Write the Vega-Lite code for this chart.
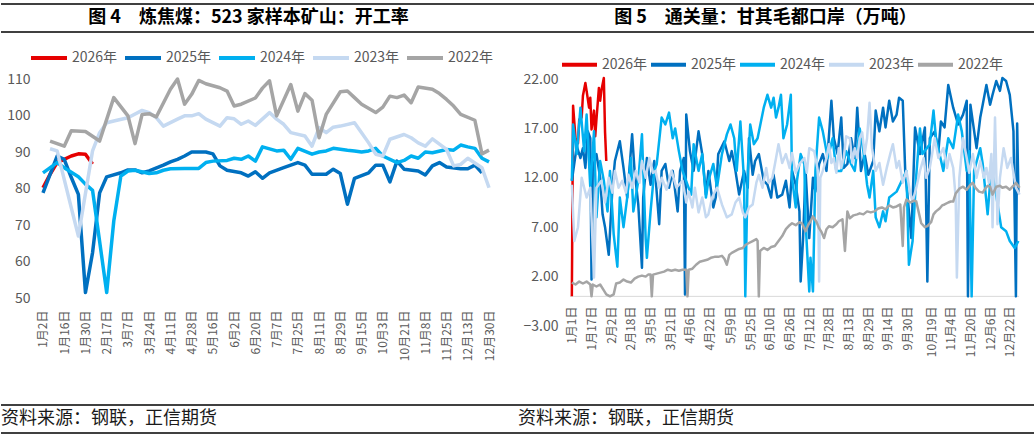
{
  "$schema": "https://vega.github.io/schema/vega-lite/v6.json",
  "background": "white",
  "padding": {"left": 0, "top": 3, "right": 0, "bottom": 0},
  "config": {
    "view": {"stroke": null},
    "font": "Noto Sans CJK SC",
    "axis": {"grid": false, "ticks": false, "domain": false, "labelColor": "#595959"}
  },
  "datasets": {
    "L26": [{"i":0,"v":80.2},{"i":1,"v":83.9},{"i":2,"v":87.1},{"i":4,"v":88.9},{"i":5,"v":89.5},{"i":6,"v":89.4},{"i":7,"v":86.7}],
    "L25": [{"i":0,"v":78.8},{"i":2,"v":88.9},{"i":3,"v":88.0},{"i":4,"v":83.0},{"i":5,"v":78.4},{"i":6,"v":51.5},{"i":7,"v":62.4},{"i":8,"v":78.8},{"i":9,"v":83.2},{"i":11,"v":84.3},{"i":12,"v":85.1},{"i":13,"v":85.1},{"i":14,"v":84.3},{"i":15,"v":84.8},{"i":17,"v":86.4},{"i":18,"v":87.3},{"i":19,"v":88.0},{"i":20,"v":88.9},{"i":21,"v":90.0},{"i":23,"v":90.0},{"i":24,"v":89.5},{"i":25,"v":86.2},{"i":26,"v":85.0},{"i":28,"v":84.3},{"i":29,"v":83.4},{"i":30,"v":84.6},{"i":31,"v":82.8},{"i":32,"v":84.3},{"i":34,"v":85.7},{"i":35,"v":86.4},{"i":36,"v":87.1},{"i":37,"v":86.4},{"i":38,"v":83.9},{"i":40,"v":83.9},{"i":41,"v":85.3},{"i":42,"v":84.1},{"i":43,"v":75.7},{"i":44,"v":82.8},{"i":46,"v":84.3},{"i":47,"v":86.4},{"i":48,"v":86.4},{"i":49,"v":81.8},{"i":50,"v":87.5},{"i":51,"v":85.3},{"i":53,"v":84.8},{"i":54,"v":83.7},{"i":55,"v":86.2},{"i":56,"v":87.1},{"i":57,"v":85.9},{"i":59,"v":85.4},{"i":60,"v":85.4},{"i":61,"v":86.4},{"i":62,"v":84.3}],
    "L24": [{"i":0,"v":84.3},{"i":2,"v":87.1},{"i":3,"v":85.7},{"i":5,"v":83.2},{"i":6,"v":81.2},{"i":7,"v":79.5},{"i":9,"v":51.5},{"i":10,"v":71.1},{"i":11,"v":83.4},{"i":12,"v":84.8},{"i":13,"v":85.0},{"i":15,"v":84.1},{"i":16,"v":84.3},{"i":17,"v":85.0},{"i":18,"v":85.4},{"i":20,"v":85.5},{"i":22,"v":85.5},{"i":23,"v":87.1},{"i":24,"v":87.5},{"i":26,"v":87.7},{"i":27,"v":88.3},{"i":28,"v":88.0},{"i":29,"v":88.9},{"i":30,"v":87.5},{"i":31,"v":91.4},{"i":33,"v":90.3},{"i":34,"v":90.5},{"i":35,"v":88.0},{"i":36,"v":91.0},{"i":38,"v":89.4},{"i":39,"v":90.0},{"i":40,"v":90.3},{"i":41,"v":91.0},{"i":43,"v":90.5},{"i":44,"v":90.3},{"i":45,"v":90.0},{"i":46,"v":90.3},{"i":47,"v":91.0},{"i":48,"v":88.9},{"i":50,"v":87.1},{"i":51,"v":87.7},{"i":52,"v":88.9},{"i":53,"v":88.3},{"i":54,"v":90.0},{"i":55,"v":89.8},{"i":57,"v":90.7},{"i":58,"v":90.5},{"i":59,"v":91.9},{"i":60,"v":91.4},{"i":61,"v":91.0},{"i":62,"v":88.3},{"i":63,"v":87.3}],
    "L23": [{"i":1,"v":90.9},{"i":2,"v":90.3},{"i":4,"v":74.7},{"i":5,"v":67.0},{"i":7,"v":90.3},{"i":8,"v":95.3},{"i":9,"v":98.0},{"i":10,"v":98.5},{"i":12,"v":99.4},{"i":14,"v":101.4},{"i":15,"v":100.8},{"i":16,"v":99.4},{"i":17,"v":97.1},{"i":19,"v":99.0},{"i":20,"v":99.9},{"i":21,"v":99.9},{"i":22,"v":100.5},{"i":23,"v":99.0},{"i":25,"v":97.1},{"i":26,"v":99.4},{"i":27,"v":99.1},{"i":28,"v":97.6},{"i":29,"v":98.5},{"i":30,"v":97.3},{"i":32,"v":100.8},{"i":33,"v":99.0},{"i":34,"v":97.6},{"i":35,"v":95.3},{"i":37,"v":94.4},{"i":38,"v":91.6},{"i":39,"v":96.7},{"i":40,"v":95.3},{"i":41,"v":96.8},{"i":42,"v":97.1},{"i":44,"v":98.0},{"i":45,"v":95.3},{"i":46,"v":92.5},{"i":47,"v":89.4},{"i":48,"v":88.9},{"i":49,"v":93.5},{"i":51,"v":94.8},{"i":52,"v":93.9},{"i":53,"v":92.5},{"i":54,"v":91.6},{"i":55,"v":93.6},{"i":57,"v":90.7},{"i":58,"v":86.2},{"i":59,"v":86.6},{"i":60,"v":88.3},{"i":62,"v":85.7},{"i":63,"v":80.2}],
    "L22": [{"i":1,"v":93.0},{"i":3,"v":91.6},{"i":4,"v":95.8},{"i":6,"v":95.6},{"i":8,"v":93.0},{"i":10,"v":104.9},{"i":12,"v":99.9},{"i":13,"v":92.3},{"i":14,"v":100.3},{"i":15,"v":100.5},{"i":16,"v":99.6},{"i":18,"v":107.2},{"i":19,"v":110},{"i":20,"v":103.1},{"i":21,"v":105.8},{"i":22,"v":109.6},{"i":23,"v":108.7},{"i":25,"v":107.6},{"i":26,"v":106.7},{"i":27,"v":102.6},{"i":28,"v":103.1},{"i":30,"v":104.8},{"i":31,"v":107.5},{"i":32,"v":109.5},{"i":33,"v":99.9},{"i":35,"v":108.5},{"i":36,"v":101.2},{"i":37,"v":106.0},{"i":38,"v":104.2},{"i":39,"v":93.9},{"i":40,"v":100.3},{"i":42,"v":106.5},{"i":43,"v":106.7},{"i":44,"v":104.9},{"i":45,"v":103.1},{"i":47,"v":100.8},{"i":48,"v":102.3},{"i":49,"v":105.3},{"i":50,"v":104.9},{"i":51,"v":105.6},{"i":52,"v":103.5},{"i":53,"v":107.8},{"i":55,"v":107.2},{"i":56,"v":106.0},{"i":57,"v":104.4},{"i":58,"v":102.6},{"i":59,"v":100.3},{"i":61,"v":98.7},{"i":62,"v":89.5},{"i":63,"v":90.5}],
    "R26": [{"n":0,"v":0},{"n":1,"v":19.3},{"n":3,"v":16.0},{"n":5,"v":15.5},{"n":6,"v":17.9},{"n":8,"v":18.1},{"n":9,"v":20.3},{"n":11,"v":21.6},{"n":12,"v":20.8},{"n":14,"v":19.1},{"n":15,"v":20.1},{"n":16,"v":16.9},{"n":18,"v":18.8},{"n":19,"v":16.2},{"n":20,"v":17.9},{"n":22,"v":21.1},{"n":23,"v":19.8},{"n":24,"v":20.8},{"n":26,"v":22.1},{"n":27,"v":16.6},{"n":28,"v":13.7}],
    "R25": [{"n":0,"v":11.7},{"n":4,"v":15.2},{"n":7,"v":14.0},{"n":9,"v":15.0},{"n":11,"v":13.0},{"n":13,"v":16.7},{"n":15,"v":16.0},{"n":16,"v":1.7},{"n":17,"v":13.0},{"n":20,"v":14.4},{"n":23,"v":12.0},{"n":25,"v":8.3},{"n":27,"v":7.0},{"n":30,"v":4.2},{"n":33,"v":11.0},{"n":35,"v":13.7},{"n":39,"v":15.7},{"n":42,"v":13.0},{"n":45,"v":10.0},{"n":49,"v":16.4},{"n":51,"v":12.7},{"n":54,"v":9.3},{"n":57,"v":2.9},{"n":58,"v":10.0},{"n":61,"v":14.0},{"n":64,"v":11.3},{"n":67,"v":13.7},{"n":71,"v":7.3},{"n":73,"v":12.7},{"n":76,"v":13.4},{"n":79,"v":11.0},{"n":82,"v":12.7},{"n":86,"v":8.6},{"n":88,"v":12.7},{"n":91,"v":14.0},{"n":92,"v":0.2},{"n":93,"v":18.4},{"n":96,"v":14.7},{"n":99,"v":12.7},{"n":103,"v":16.7},{"n":106,"v":14.4},{"n":109,"v":10.3},{"n":111,"v":12.7},{"n":115,"v":9.0},{"n":117,"v":10.0},{"n":119,"v":14.4},{"n":124,"v":15.7},{"n":128,"v":13.7},{"n":130,"v":14.7},{"n":133,"v":12.7},{"n":136,"v":10.3},{"n":140,"v":12.7},{"n":143,"v":11.0},{"n":144,"v":16.0},{"n":147,"v":12.3},{"n":149,"v":13.7},{"n":152,"v":14.4},{"n":156,"v":11.7},{"n":159,"v":11.3},{"n":162,"v":10.0},{"n":164,"v":12.3},{"n":167,"v":10.0},{"n":171,"v":10.3},{"n":174,"v":11.7},{"n":177,"v":9.0},{"n":179,"v":12.7},{"n":182,"v":11.3},{"n":185,"v":8.6},{"n":186,"v":1.5},{"n":188,"v":5.9},{"n":190,"v":12.7},{"n":193,"v":5.9},{"n":196,"v":12.0},{"n":198,"v":10.6},{"n":201,"v":13.4},{"n":204,"v":14.4},{"n":207,"v":12.7},{"n":211,"v":19.8},{"n":213,"v":16.0},{"n":216,"v":14.4},{"n":219,"v":18.1},{"n":221,"v":13.0},{"n":224,"v":13.4},{"n":227,"v":16.0},{"n":230,"v":14.0},{"n":232,"v":19.1},{"n":235,"v":12.7},{"n":238,"v":14.4},{"n":241,"v":12.3},{"n":245,"v":13.7},{"n":247,"v":18.8},{"n":250,"v":16.7},{"n":253,"v":19.1},{"n":255,"v":17.1},{"n":258,"v":19.8},{"n":261,"v":17.7},{"n":264,"v":18.4},{"n":266,"v":20.1},{"n":269,"v":19.8},{"n":271,"v":12.7},{"n":273,"v":10.0},{"n":276,"v":5.9},{"n":279,"v":17.1},{"n":283,"v":14.4},{"n":287,"v":17.1},{"n":289,"v":1.5},{"n":291,"v":16.0},{"n":295,"v":16.7},{"n":298,"v":14.7},{"n":300,"v":17.7},{"n":303,"v":17.1},{"n":306,"v":21.4},{"n":310,"v":19.1},{"n":314,"v":17.4},{"n":318,"v":18.4},{"n":321,"v":19.8},{"n":322,"v":0},{"n":324,"v":19.4},{"n":329,"v":15.0},{"n":332,"v":18.1},{"n":334,"v":19.4},{"n":337,"v":21.4},{"n":340,"v":19.4},{"n":342,"v":20.4},{"n":345,"v":21.8},{"n":348,"v":20.8},{"n":350,"v":22.1},{"n":353,"v":21.8},{"n":356,"v":20.4},{"n":359,"v":16.7},{"n":361,"v":0},{"n":362,"v":17.5},{"n":363,"v":10.5}],
    "R24": [{"n":0,"v":11.7},{"n":1,"v":17.4},{"n":4,"v":14.4},{"n":7,"v":19.1},{"n":10,"v":14.7},{"n":12,"v":18.4},{"n":15,"v":11.0},{"n":18,"v":16.7},{"n":20,"v":8.0},{"n":23,"v":13.7},{"n":26,"v":11.7},{"n":29,"v":8.6},{"n":31,"v":12.7},{"n":34,"v":6.3},{"n":37,"v":3.0},{"n":39,"v":10.0},{"n":42,"v":7.0},{"n":45,"v":10.0},{"n":48,"v":14.0},{"n":50,"v":8.6},{"n":54,"v":11.7},{"n":57,"v":16.4},{"n":60,"v":5.9},{"n":61,"v":3.9},{"n":64,"v":8.6},{"n":67,"v":12.7},{"n":69,"v":13.4},{"n":73,"v":18.1},{"n":76,"v":17.4},{"n":79,"v":18.6},{"n":82,"v":16.0},{"n":84,"v":17.0},{"n":87,"v":14.7},{"n":90,"v":12.7},{"n":94,"v":11.3},{"n":97,"v":10.3},{"n":99,"v":15.4},{"n":103,"v":12.7},{"n":106,"v":14.4},{"n":109,"v":10.0},{"n":111,"v":11.7},{"n":115,"v":13.4},{"n":118,"v":11.0},{"n":122,"v":14.4},{"n":126,"v":16.4},{"n":129,"v":17.4},{"n":132,"v":16.0},{"n":134,"v":12.7},{"n":137,"v":17.7},{"n":140,"v":11.7},{"n":141,"v":0},{"n":143,"v":12.7},{"n":145,"v":17.4},{"n":148,"v":15.4},{"n":151,"v":16.0},{"n":156,"v":19.1},{"n":159,"v":20.4},{"n":162,"v":19.1},{"n":164,"v":20.1},{"n":166,"v":18.1},{"n":168,"v":19.1},{"n":170,"v":20.4},{"n":172,"v":16.0},{"n":175,"v":17.4},{"n":178,"v":20.4},{"n":179,"v":12.0},{"n":182,"v":9.0},{"n":183,"v":11.7},{"n":186,"v":14.4},{"n":189,"v":13.4},{"n":190,"v":7.6},{"n":193,"v":0.5},{"n":194,"v":3.9},{"n":196,"v":0.5},{"n":198,"v":12.7},{"n":201,"v":18.1},{"n":204,"v":16.7},{"n":208,"v":14.0},{"n":212,"v":16.0},{"n":215,"v":12.7},{"n":219,"v":12.7},{"n":223,"v":14.7},{"n":227,"v":13.4},{"n":230,"v":12.7},{"n":234,"v":17.0},{"n":237,"v":14.7},{"n":240,"v":11.3},{"n":242,"v":10.0},{"n":245,"v":12.7},{"n":247,"v":8.0},{"n":250,"v":7.0},{"n":253,"v":8.6},{"n":255,"v":7.6},{"n":258,"v":10.0},{"n":264,"v":10.6},{"n":272,"v":12.7},{"n":274,"v":3.2},{"n":277,"v":5.6},{"n":280,"v":12.3},{"n":283,"v":17.0},{"n":285,"v":14.4},{"n":291,"v":15.4},{"n":294,"v":18.8},{"n":296,"v":16.0},{"n":302,"v":12.7},{"n":306,"v":16.0},{"n":310,"v":15.0},{"n":314,"v":18.4},{"n":317,"v":16.7},{"n":321,"v":12.7},{"n":323,"v":14.7},{"n":325,"v":0},{"n":327,"v":12.7},{"n":332,"v":15.0},{"n":334,"v":13.4},{"n":338,"v":8.3},{"n":341,"v":13.0},{"n":344,"v":11.0},{"n":347,"v":8.6},{"n":349,"v":7.0},{"n":353,"v":6.6},{"n":356,"v":5.6},{"n":360,"v":4.9},{"n":363,"v":5.6}],
    "R23": [{"n":0,"v":11.3},{"n":2,"v":5.6},{"n":5,"v":7.0},{"n":8,"v":12.0},{"n":12,"v":10.0},{"n":15,"v":11.0},{"n":18,"v":1.9},{"n":20,"v":11.0},{"n":24,"v":11.7},{"n":27,"v":9.5},{"n":30,"v":12.0},{"n":33,"v":10.5},{"n":35,"v":12.7},{"n":38,"v":11.0},{"n":41,"v":11.7},{"n":44,"v":10.5},{"n":46,"v":12.3},{"n":49,"v":11.0},{"n":52,"v":12.7},{"n":55,"v":11.5},{"n":57,"v":13.7},{"n":60,"v":12.0},{"n":63,"v":14.0},{"n":66,"v":12.5},{"n":68,"v":12.7},{"n":71,"v":11.0},{"n":73,"v":12.0},{"n":77,"v":10.8},{"n":81,"v":12.7},{"n":85,"v":11.0},{"n":90,"v":11.7},{"n":93,"v":9.5},{"n":95,"v":10.6},{"n":98,"v":9.0},{"n":100,"v":11.0},{"n":103,"v":8.5},{"n":106,"v":10.0},{"n":109,"v":8.0},{"n":111,"v":8.3},{"n":114,"v":10.0},{"n":118,"v":11.0},{"n":122,"v":9.3},{"n":126,"v":8.0},{"n":130,"v":8.3},{"n":133,"v":9.5},{"n":136,"v":10.0},{"n":139,"v":8.5},{"n":141,"v":8.0},{"n":144,"v":9.0},{"n":147,"v":9.3},{"n":150,"v":11.5},{"n":152,"v":12.3},{"n":155,"v":11.0},{"n":158,"v":13.0},{"n":160,"v":11.5},{"n":163,"v":12.0},{"n":166,"v":14.0},{"n":168,"v":15.4},{"n":171,"v":13.5},{"n":174,"v":14.4},{"n":177,"v":13.0},{"n":179,"v":14.5},{"n":182,"v":12.5},{"n":185,"v":13.4},{"n":189,"v":14.0},{"n":191,"v":12.5},{"n":193,"v":15.0},{"n":197,"v":14.7},{"n":200,"v":12.7},{"n":201,"v":1.5},{"n":202,"v":12.0},{"n":204,"v":12.7},{"n":207,"v":14.0},{"n":209,"v":15.4},{"n":211,"v":13.5},{"n":213,"v":14.0},{"n":215,"v":12.5},{"n":217,"v":15.0},{"n":219,"v":13.0},{"n":221,"v":14.0},{"n":223,"v":16.2},{"n":226,"v":16.0},{"n":228,"v":13.5},{"n":230,"v":15.0},{"n":232,"v":14.0},{"n":234,"v":16.0},{"n":236,"v":16.6},{"n":238,"v":14.4},{"n":240,"v":16.0},{"n":242,"v":19.6},{"n":244,"v":15.0},{"n":247,"v":12.7},{"n":250,"v":13.5},{"n":253,"v":11.3},{"n":256,"v":13.0},{"n":259,"v":14.5},{"n":261,"v":15.4},{"n":264,"v":13.0},{"n":266,"v":13.7},{"n":269,"v":11.5},{"n":272,"v":12.7},{"n":275,"v":10.5},{"n":277,"v":9.6},{"n":280,"v":11.0},{"n":283,"v":12.7},{"n":286,"v":14.0},{"n":288,"v":12.0},{"n":291,"v":13.0},{"n":293,"v":14.5},{"n":295,"v":16.0},{"n":298,"v":14.0},{"n":302,"v":15.0},{"n":305,"v":13.0},{"n":307,"v":14.4},{"n":310,"v":13.0},{"n":312,"v":10.0},{"n":313,"v":1.9},{"n":315,"v":12.0},{"n":318,"v":16.0},{"n":321,"v":14.0},{"n":323,"v":12.5},{"n":326,"v":14.4},{"n":329,"v":12.0},{"n":332,"v":13.7},{"n":335,"v":12.0},{"n":337,"v":13.0},{"n":339,"v":11.5},{"n":341,"v":14.4},{"n":342,"v":7.0},{"n":344,"v":18.1},{"n":346,"v":7.3},{"n":348,"v":12.0},{"n":351,"v":15.0},{"n":354,"v":13.0},{"n":357,"v":14.0},{"n":359,"v":12.5},{"n":361,"v":11.0},{"n":364,"v":10.3}],
    "R22": [{"n":0,"v":1.4},{"n":3,"v":1.2},{"n":6,"v":1.5},{"n":9,"v":1.3},{"n":12,"v":1.5},{"n":15,"v":1.2},{"n":16,"v":0},{"n":17,"v":1.2},{"n":20,"v":1.0},{"n":23,"v":1.2},{"n":26,"v":0.6},{"n":28,"v":0.2},{"n":31,"v":0},{"n":34,"v":0.2},{"n":36,"v":1.3},{"n":39,"v":1.4},{"n":42,"v":1.7},{"n":45,"v":1.5},{"n":48,"v":1.4},{"n":51,"v":1.8},{"n":54,"v":2.0},{"n":57,"v":2.1},{"n":60,"v":2.0},{"n":62,"v":2.2},{"n":64,"v":2.2},{"n":65,"v":0},{"n":66,"v":2.2},{"n":69,"v":2.3},{"n":72,"v":2.4},{"n":75,"v":2.5},{"n":78,"v":2.7},{"n":81,"v":2.6},{"n":84,"v":2.7},{"n":87,"v":2.6},{"n":90,"v":2.7},{"n":93,"v":2.7},{"n":94,"v":0},{"n":95,"v":2.7},{"n":98,"v":2.8},{"n":101,"v":3.2},{"n":104,"v":3.5},{"n":107,"v":3.6},{"n":110,"v":3.7},{"n":113,"v":3.9},{"n":116,"v":4.0},{"n":119,"v":4.0},{"n":122,"v":4.1},{"n":124,"v":3.8},{"n":126,"v":3.2},{"n":128,"v":4.2},{"n":130,"v":4.4},{"n":133,"v":4.6},{"n":136,"v":4.8},{"n":139,"v":4.9},{"n":141,"v":5.2},{"n":144,"v":5.4},{"n":147,"v":5.6},{"n":150,"v":5.8},{"n":151,"v":5.6},{"n":152,"v":0},{"n":153,"v":4.6},{"n":156,"v":4.9},{"n":159,"v":4.7},{"n":162,"v":5.0},{"n":165,"v":5.1},{"n":168,"v":5.6},{"n":171,"v":6.1},{"n":174,"v":6.8},{"n":177,"v":7.2},{"n":179,"v":7.4},{"n":182,"v":7.2},{"n":185,"v":7.5},{"n":187,"v":7.4},{"n":190,"v":6.6},{"n":192,"v":7.2},{"n":194,"v":7.6},{"n":196,"v":8.1},{"n":199,"v":7.5},{"n":201,"v":6.9},{"n":203,"v":6.5},{"n":205,"v":5.9},{"n":207,"v":6.8},{"n":209,"v":7.1},{"n":212,"v":7.0},{"n":215,"v":7.3},{"n":217,"v":7.6},{"n":220,"v":7.8},{"n":222,"v":4.6},{"n":224,"v":8.6},{"n":226,"v":7.9},{"n":229,"v":8.2},{"n":232,"v":8.3},{"n":234,"v":8.4},{"n":237,"v":8.3},{"n":240,"v":8.6},{"n":243,"v":8.5},{"n":246,"v":8.6},{"n":249,"v":8.9},{"n":252,"v":9.0},{"n":255,"v":8.8},{"n":258,"v":9.2},{"n":261,"v":9.0},{"n":264,"v":9.1},{"n":267,"v":9.3},{"n":269,"v":5.1},{"n":270,"v":9.0},{"n":272,"v":9.8},{"n":275,"v":9.5},{"n":278,"v":9.7},{"n":280,"v":9.6},{"n":282,"v":8.5},{"n":284,"v":7.4},{"n":287,"v":7.0},{"n":289,"v":7.1},{"n":292,"v":7.5},{"n":294,"v":8.3},{"n":296,"v":8.6},{"n":299,"v":8.9},{"n":301,"v":9.2},{"n":303,"v":9.3},{"n":306,"v":9.5},{"n":308,"v":9.6},{"n":310,"v":9.6},{"n":312,"v":10.4},{"n":315,"v":10.9},{"n":318,"v":11.1},{"n":321,"v":10.8},{"n":324,"v":11.3},{"n":326,"v":11.5},{"n":328,"v":11.0},{"n":331,"v":10.6},{"n":334,"v":10.5},{"n":336,"v":10.9},{"n":338,"v":11.2},{"n":340,"v":11.1},{"n":342,"v":10.3},{"n":345,"v":11.1},{"n":348,"v":11.2},{"n":350,"v":11.0},{"n":353,"v":11.1},{"n":356,"v":10.8},{"n":359,"v":11.2},{"n":361,"v":11.5},{"n":364,"v":11.0}]
  },
  "spacing": 43,
  "vconcat": [
    {
      "spacing": 5,
      "vconcat": [
        {
          "width": 1034,
          "height": 28,
          "layer": [
            {
              "data": {"values": [{"edge": 0}, {"edge": 1}]},
              "mark": {"type": "rule", "color": "#000000", "strokeWidth": 1.6},
              "encoding": {"y": {"field": "edge", "type": "quantitative", "scale": {"domain": [0, 1]}, "axis": null}}
            },
            {
              "data": {"values": [{"p": "L", "t": "图 4　炼焦煤：523 家样本矿山：开工率"}, {"p": "R", "t": "图 5　通关量：甘其毛都口岸（万吨）"}]},
              "mark": {"type": "text", "fontSize": 18, "fontWeight": "bold", "color": "#000000", "dx": -11},
              "encoding": {
                "x": {"field": "p", "type": "nominal", "axis": null},
                "text": {"field": "t"}
              }
            }
          ]
        },
        {
          "hconcat": [
            {
              "width": 490,
              "height": 219,
              "encoding": {
                "x": {"field": "i", "type": "quantitative", "scale": {"domain": [-5.93, 63.28], "nice": false, "zero": false},
                  "axis": {"title": null, "values": [0,3,6,9,12,15,18,21,24,27,30,33,36,39,42,45,48,51,54,57,60,63],
                    "labelExpr": "['1月2日','1月16日','1月30日','2月17日','3月7日','3月24日','4月11日','4月28日','5月16日','6月2日','6月20日','7月7日','7月25日','8月11日','8月29日','9月15日','10月3日','10月21日','11月8日','11月25日','12月13日','12月30日'][round(datum.value/3)]",
                    "labelAngle": 270, "labelFontSize": 12, "labelPadding": 12, "labelFlush": false, "labelOverlap": false}},
                "y": {"field": "v", "type": "quantitative", "scale": {"domain": [50, 110], "nice": false, "zero": false},
                  "axis": {"title": null, "values": [50,60,70,80,90,100,110], "labelFontSize": 14, "labelPadding": 11, "offset": -40}}
              },
              "layer": [
                {"data": {"values": [{}]}, "mark": {"type": "rule", "color": "#D9D9D9", "strokeWidth": 1},
                  "encoding": {"y": {"datum": 50, "type": "quantitative"}, "x": {"datum": -0.3, "type": "quantitative"}, "x2": {"datum": 63.28}}},
                {"data": {"name": "L26"}, "mark": {"type": "line", "strokeWidth": 3.5, "strokeJoin": "round"},
                  "encoding": {"color": {"datum": "2026年", "type": "nominal",
                    "scale": {"domain": ["2026年","2025年","2024年","2023年","2022年"], "range": ["#E60000","#0070C0","#00B0F0","#C5D9F1","#A5A5A5"]},
                    "legend": {"orient": "none", "legendX": 28, "legendY": -41, "direction": "horizontal", "title": null,
                      "symbolType": "stroke", "symbolStrokeWidth": 4, "symbolSize": 1296, "labelFontSize": 14, "labelColor": "#595959",
                      "columnPadding": -1, "labelOffset": 3, "padding": 0, "fillColor": "rgba(255,255,255,0)"}}}},
                {"data": {"name": "L25"}, "mark": {"type": "line", "strokeWidth": 3.5, "strokeJoin": "round"}, "encoding": {"color": {"datum": "2025年", "type": "nominal"}}},
                {"data": {"name": "L24"}, "mark": {"type": "line", "strokeWidth": 3.5, "strokeJoin": "round"}, "encoding": {"color": {"datum": "2024年", "type": "nominal"}}},
                {"data": {"name": "L23"}, "mark": {"type": "line", "strokeWidth": 3.5, "strokeJoin": "round"}, "encoding": {"color": {"datum": "2023年", "type": "nominal"}}},
                {"data": {"name": "L22"}, "mark": {"type": "line", "strokeWidth": 3.5, "strokeJoin": "round"}, "encoding": {"color": {"datum": "2022年", "type": "nominal"}}}
              ]
            },
            {
              "width": 449,
              "height": 247,
              "layer": [
                {
                  "data": {"values": [{}]},
                  "mark": {"type": "rule", "color": "#D9D9D9", "strokeWidth": 1},
                  "encoding": {"y": {"datum": 0, "type": "quantitative"}}
                },
                {
                  "encoding": {
                    "x": {"field": "n", "type": "quantitative", "scale": {"domain": [-1.5, 363.5], "nice": false, "zero": false},
                      "axis": {"title": null, "values": [0,16,32,48,64,80,96,112,129,145,161,177,193,209,225,241,257,273,292,308,324,340,356],
                        "labelExpr": "timeFormat(datetime(2024,0,1+datum.value),'%-m月%-d日')",
                        "labelAngle": 270, "labelFontSize": 12, "labelPadding": 10, "offset": -30, "labelFlush": false, "labelOverlap": false}},
                    "y": {"field": "v", "type": "quantitative", "scale": {"domain": [-3, 22], "nice": false, "zero": false},
                      "axis": {"title": null, "values": [-3,2,7,12,17,22], "format": ".2f", "labelFontSize": 14, "labelPadding": 12}}
                  },
                  "layer": [
                    {"data": {"name": "R26"}, "mark": {"type": "line", "strokeWidth": 2.5, "strokeJoin": "round"},
                      "encoding": {"color": {"datum": "2026年", "type": "nominal",
                        "scale": {"domain": ["2026年","2025年","2024年","2023年","2022年"], "range": ["#E60000","#0070C0","#00B0F0","#C5D9F1","#A5A5A5"]},
                        "legend": {"orient": "none", "legendX": -17, "legendY": -41, "direction": "horizontal", "title": null,
                          "symbolType": "stroke", "symbolStrokeWidth": 4, "symbolSize": 1225, "labelFontSize": 14, "labelColor": "#595959",
                          "columnPadding": -5, "labelOffset": 3, "padding": 7, "fillColor": "rgba(255,255,255,0)"}}}},
                    {"data": {"name": "R25"}, "mark": {"type": "line", "strokeWidth": 2.5, "strokeJoin": "round"}, "encoding": {"color": {"datum": "2025年", "type": "nominal"}}},
                    {"data": {"name": "R24"}, "mark": {"type": "line", "strokeWidth": 2.5, "strokeJoin": "round"}, "encoding": {"color": {"datum": "2024年", "type": "nominal"}}},
                    {"data": {"name": "R23"}, "mark": {"type": "line", "strokeWidth": 2.5, "strokeJoin": "round"}, "encoding": {"color": {"datum": "2023年", "type": "nominal"}}},
                    {"data": {"name": "R22"}, "mark": {"type": "line", "strokeWidth": 2.5, "strokeJoin": "round"}, "encoding": {"color": {"datum": "2022年", "type": "nominal"}}}
                  ]
                }
              ]
            }
          ],
          "spacing": 27,
          "resolve": {"scale": {"color": "independent"}, "legend": {"color": "independent"}}
        }
      ]
    },
    {
      "width": 1034,
      "height": 28,
      "layer": [
        {
          "data": {"values": [{"edge": 0}, {"edge": 1}]},
          "mark": {"type": "rule", "color": "#000000", "strokeWidth": 1.6},
          "encoding": {"y": {"field": "edge", "type": "quantitative", "scale": {"domain": [0, 1]}, "axis": null}}
        },
        {
          "data": {"values": [{"p": "L", "t": "资料来源：钢联，正信期货"}, {"p": "R", "t": "资料来源：钢联，正信期货"}]},
          "mark": {"type": "text", "fontSize": 18, "align": "left", "color": "#1A1A1A"},
          "encoding": {
            "x": {"field": "p", "type": "nominal", "bandPosition": 0, "scale": {"type": "band", "paddingInner": 0, "paddingOuter": 0}, "axis": null},
            "text": {"field": "t"}
          }
        }
      ]
    }
  ]
}
